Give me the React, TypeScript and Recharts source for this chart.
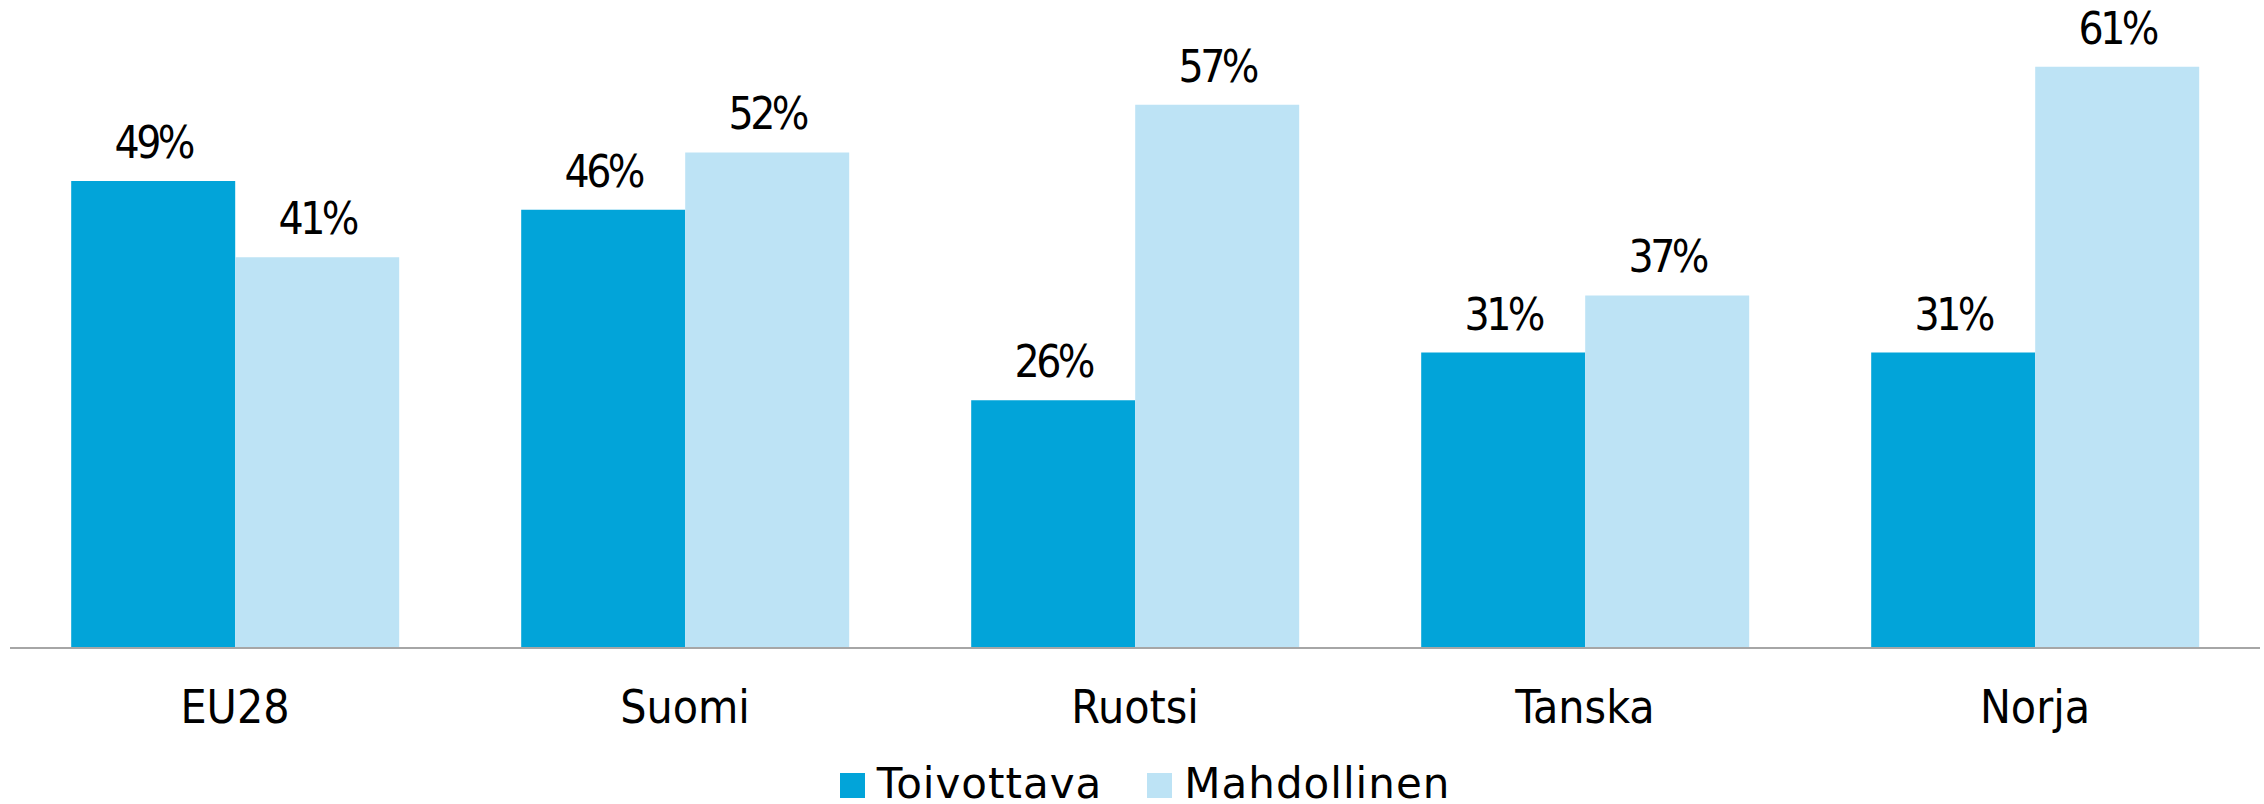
import { BarChart, Bar, XAxis, YAxis, Legend, LabelList } from 'recharts';

const categories = ['EU28', 'Suomi', 'Ruotsi', 'Tanska', 'Norja'];
const toivottava = [49, 46, 26, 31, 31];
const mahdollinen = [41, 52, 57, 37, 61];
const seriesNames = ['Toivottava', 'Mahdollinen'];

const DARK = '#02A4D9';
const LIGHT = '#BDE3F5';
const FONT = '"DejaVu Sans Condensed", "DejaVu Sans", sans-serif';
const LEGEND_FONT = '"DejaVu Sans", sans-serif';

const data = categories.map((name, i) => ({
  name,
  Toivottava: toivottava[i],
  Mahdollinen: mahdollinen[i],
}));

function CategoryTick({ x, y, payload }: { x?: number; y?: number; payload?: { value: string } }) {
  return (
    <text x={x} y={y} dy={75} textAnchor="middle" fill="#000" fontSize={46} fontFamily={FONT}>
      {payload?.value}
    </text>
  );
}

function LegendBox() {
  const colors = [DARK, LIGHT];
  return (
    <div style={{
      height: 50, boxSizing: 'border-box', paddingTop: 10, paddingLeft: 20, display: 'flex',
      justifyContent: 'center', alignItems: 'baseline', fontFamily: LEGEND_FONT, fontSize: 42,
      lineHeight: '40px', letterSpacing: 1,
    }}>
      {seriesNames.map((n, i) => (
        <div key={n} style={{ display: 'flex', alignItems: 'baseline', marginLeft: i ? 45 : 0 }}>
          <span style={{ display: 'inline-block', width: 25, height: 25, background: colors[i], marginRight: 12 }} />
          <span style={{ color: '#000' }}>{n}</span>
        </div>
      ))}
    </div>
  );
}

const pct = (v: number) => `${v}%`;

export default function App() {
  return (
    <div>
      <style>{'body{margin:0}'}</style>
      <BarChart
        width={2264}
        height={804}
        data={data}
        margin={{ top: 0, right: 4, bottom: 0, left: 10 }}
        barCategoryGap="13.6%"
        barGap={0}
      >
        <XAxis
          dataKey="name"
          height={106}
          tickLine={false}
          tickSize={0}
          tickMargin={0}
          axisLine={{ stroke: '#A6A6A6', strokeWidth: 2 }}
          tick={<CategoryTick />}
          interval={0}
        />
        <YAxis hide domain={[0, 68]} />
        <Legend verticalAlign="bottom" content={<LegendBox />} />
        <Bar dataKey="Toivottava" fill={DARK} isAnimationActive={false}>
          <LabelList dataKey="Toivottava" position="top" offset={23} formatter={pct}
            fill="#000" fontSize={44} fontFamily={FONT} letterSpacing={-3.5} />
        </Bar>
        <Bar dataKey="Mahdollinen" fill={LIGHT} isAnimationActive={false}>
          <LabelList dataKey="Mahdollinen" position="top" offset={23} formatter={pct}
            fill="#000" fontSize={44} fontFamily={FONT} letterSpacing={-3.5} />
        </Bar>
      </BarChart>
    </div>
  );
}
